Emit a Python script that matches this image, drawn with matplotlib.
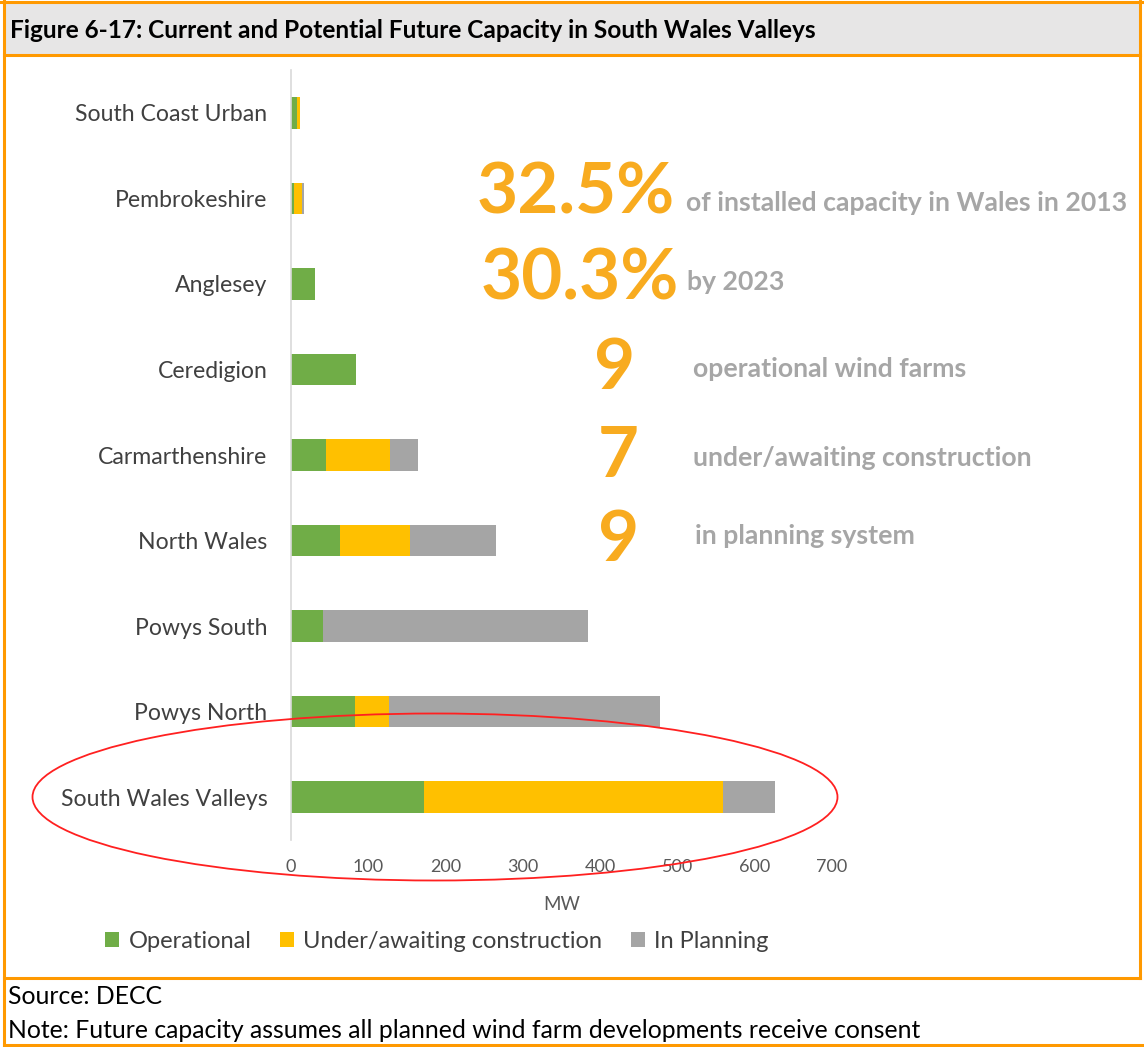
import matplotlib
matplotlib.use("Agg")
from matplotlib import pyplot as plt
from matplotlib.patches import Rectangle, Ellipse
from matplotlib.lines import Line2D

# data (MW)
regions = ["South Wales Valleys", "Powys North", "Powys South", "North Wales",
           "Carmarthenshire", "Ceredigion", "Anglesey", "Pembrokeshire",
           "South Coast Urban"]
operational = [172, 83, 41, 63, 45, 84, 31, 4, 8]
under_construction = [387, 44, 0, 91, 83, 0, 0, 10, 3]
in_planning = [67, 350, 343, 111, 36, 0, 0, 3, 1]
series_names = ["Operational", "Under/awaiting construction", "In Planning"]
x_ticks = [0, 100, 200, 300, 400, 500, 600, 700]

GREEN = "#70AD47"
YELLOW = "#FFC000"
GREY = "#A5A5A5"
ORANGE = "#F8AB1F"
BORDER = "#FF9900"

W, H = 1144, 1047
plt.rcParams["font.family"] = ["Lato", "DejaVu Sans"]


def fx(px):
    return px / W


def fy(py):
    return 1 - py / H


fig = plt.figure(figsize=(W / 100, H / 100), dpi=100)

# header band and frame
fig.patches.append(Rectangle((fx(4), fy(55)), fx(1136), 53 / H, transform=fig.transFigure,
                             facecolor="#E7E6E6", edgecolor="none", zorder=0))
for (x0, y0, x1, y1) in [(0, 2, W, 2), (4, 55, 1140, 55), (4, 978, 1140, 978),
                         (4, 1045, W, 1045), (4, 0, 4, H), (1140, 0, 1140, 978)]:
    fig.add_artist(Line2D([fx(x0), fx(x1)], [fy(y0), fy(y1)], transform=fig.transFigure,
                          color=BORDER, lw=2.2))
fig.text(fx(10), fy(31), "Figure 6-17: Current and Potential Future Capacity in South Wales Valleys",
         fontsize=17.6, fontweight="bold", va="center", ha="left", color="black")
fig.text(fx(8), fy(997), "Source: DECC", fontsize=17.8, va="center", color="black")
fig.text(fx(8), fy(1031), "Note: Future capacity assumes all planned wind farm developments receive consent",
         fontsize=17.8, va="center", color="black")

ax = fig.add_axes([fx(291), fy(840), fx(832) - fx(291), 770 / H])
ys = list(range(len(regions)))
left2 = [a for a in operational]
left3 = [a + b for a, b in zip(operational, under_construction)]
ax.barh(ys, operational, height=0.37, color=GREEN, label=series_names[0])
ax.barh(ys, under_construction, left=left2, height=0.37, color=YELLOW, label=series_names[1])
ax.barh(ys, in_planning, left=left3, height=0.37, color=GREY, label=series_names[2])

ax.set_xlim(0, 700)
ax.set_ylim(-0.5, len(regions) - 0.5)
ax.set_yticks(ys)
ax.set_yticklabels(regions, fontsize=16.6, color="#404040")
ax.set_xticks(x_ticks)
ax.set_xticklabels([str(t) for t in x_ticks], fontsize=13, color="#595959")
ax.tick_params(axis="both", length=0)
ax.tick_params(axis="y", pad=17)
ax.tick_params(axis="x", pad=14)
for s in ["top", "right", "bottom"]:
    ax.spines[s].set_visible(False)
ax.spines["left"].set_color("#D9D9D9")
ax.spines["left"].set_linewidth(1.2)
ax.set_xlabel("MW", fontsize=13.5, color="#595959", labelpad=15)

fig.legend(loc="center", bbox_to_anchor=(fx(437), fy(941)), ncol=3, frameon=False,
           fontsize=17, handlelength=0.6, handleheight=0.6, handletextpad=0.4,
           columnspacing=1.2, labelcolor="#404040")

# callout figures
big = dict(color=ORANGE, fontweight="bold", fontsize=51, va="baseline", transform=fig.transFigure)
small = dict(color="#A6A6A6", fontweight="bold", fontsize=19.2, va="baseline", transform=fig.transFigure)
fig.text(fx(477), fy(213), "32.5%", **big)
fig.text(fx(686), fy(211), "of installed capacity in Wales in 2013", **small)
fig.text(fx(481), fy(299), "30.3%", **big)
fig.text(fx(687), fy(290), "by 2023", **small)
fig.text(fx(594), fy(389), "9", **big)
fig.text(fx(693), fy(377), "operational wind farms", **small)
fig.text(fx(598), fy(477), "7", **big)
fig.text(fx(693), fy(466), "under/awaiting construction", **small)
fig.text(fx(598), fy(561), "9", **big)
fig.text(fx(695), fy(544), "in planning system", **small)

# highlight ring
fig.add_artist(Ellipse((fx(435), fy(797)), fx(805), 167 / H, transform=fig.transFigure,
                       facecolor="none", edgecolor="#FF2020", lw=1.3))

fig.savefig("out.png", dpi=100)
